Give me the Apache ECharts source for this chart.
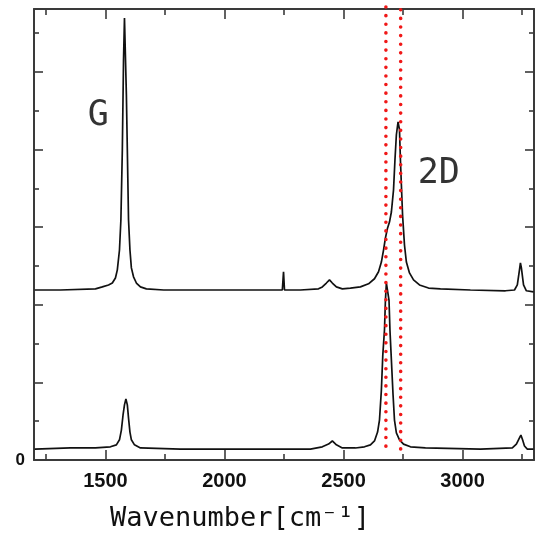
<!DOCTYPE html>
<html>
<head>
<meta charset="utf-8">
<script src="https://cdn.jsdelivr.net/npm/echarts@6/dist/echarts.min.js"></script>
<style>html,body{margin:0;padding:0;background:#fff;}#c{width:541px;height:539px;}</style>
</head>
<body>
<div id="c"></div>
<script>
const xMajorTicks = [1500, 2000, 2500, 3000];
const xMinorTicks = [1250, 1750, 2250, 2750, 3250];

const graphiteWn = [1203,1311,1458,1487,1513,1529,1542,1550,1559,1565,1571,1576,1580,1584,1588,1592,1597,1603,1609,1618,1630,1647,1672,1745,1752,1760,1899,2067,2243,2248,2252,2319,2395,2411,2428,2441,2453,2470,2495,2529,2571,2605,2630,2647,2659,2668,2676,2685,2693,2701,2710,2716,2722,2729,2735,2739,2743,2748,2756,2764,2777,2794,2819,2857,2907,3033,3180,3218,3230,3239,3243,3247,3256,3268,3298];
const graphiteI = [4.38,4.38,4.41,4.46,4.51,4.56,4.69,4.90,5.41,6.19,7.99,10.31,11.39,11.37,9.41,7.99,6.19,5.41,4.95,4.72,4.56,4.46,4.41,4.38,4.43,4.38,4.38,4.38,4.38,4.85,4.38,4.38,4.41,4.46,4.56,4.64,4.56,4.46,4.41,4.43,4.46,4.54,4.67,4.85,5.10,5.41,5.72,5.98,6.13,6.39,6.96,7.73,8.38,8.71,8.51,7.73,7.09,6.31,5.54,5.10,4.82,4.64,4.51,4.43,4.41,4.38,4.36,4.38,4.51,4.90,5.08,4.95,4.51,4.36,4.33];

const grapheneWn = [1203,1353,1360,1458,1521,1546,1559,1567,1574,1580,1586,1592,1597,1603,1609,1622,1647,1815,2113,2361,2411,2437,2453,2470,2495,2550,2588,2613,2630,2643,2651,2659,2665,2672,2676,2680,2687,2691,2695,2701,2708,2714,2722,2735,2752,2781,2844,3075,3209,3226,3239,3245,3252,3260,3272,3298];
const grapheneI = [0.28,0.31,0.28,0.31,0.34,0.39,0.52,0.77,1.16,1.42,1.57,1.42,1.08,0.72,0.52,0.39,0.31,0.28,0.28,0.28,0.34,0.41,0.49,0.39,0.31,0.31,0.34,0.39,0.49,0.72,1.03,1.80,2.71,3.35,4.12,4.56,4.54,4.12,3.35,2.58,1.68,1.03,0.70,0.52,0.41,0.34,0.31,0.28,0.31,0.41,0.57,0.64,0.52,0.36,0.28,0.28];

const refLineWn = [2678, 2740];
const refLineTop = [11.67, 11.60];
const refLineBottom = 0.2;

const peakLabels = ['G', '2D'];
const peakLabelWn = [1470, 2900];
const peakLabelI = [8.87, 7.38];

const X_MIN = 1200, X_MAX = 3300, Y_MIN = 0, Y_MAX = 11.62;
const frameColor = '#3a3a3a';

function zip(a, b) { return a.map((v, i) => [v, b[i]]); }

const chart = echarts.init(document.getElementById('c'), null, { renderer: 'canvas' });

function xAx(pos, ticks, len, showLine, showLabel) {
  return {
    type: 'value', position: pos, min: X_MIN, max: X_MAX, gridIndex: 0,
    axisLine: { show: showLine, onZero: false, lineStyle: { color: frameColor, width: 2 } },
    axisTick: { show: true, inside: true, length: len, customValues: ticks, lineStyle: { color: frameColor, width: 1.6 } },
    axisLabel: showLabel ? { show: true, customValues: ticks, formatter: v => String(v), margin: 11, color: '#111', fontFamily: 'Liberation Sans', fontWeight: 'bold', fontSize: 20 } : { show: false },
    splitLine: { show: false }
  };
}
function yAx(pos, showLabel) {
  return {
    type: 'value', position: pos, min: Y_MIN, max: Y_MAX, interval: 2,
    axisLine: { show: true, onZero: false, lineStyle: { color: frameColor, width: 2 } },
    axisTick: { show: true, inside: true, length: 9, lineStyle: { color: frameColor, width: 1.6 } },
    minorTick: { show: true, splitNumber: 2, length: 5, lineStyle: { color: frameColor, width: 1.6 } },
    axisLabel: showLabel ? { show: true, margin: 9, color: '#111', fontFamily: 'Liberation Sans', fontWeight: 'bold', fontSize: 17, formatter: v => (v === 0 ? '0' : '') } : { show: false },
    splitLine: { show: false }, minorSplitLine: { show: false }
  };
}

const refSeries = refLineWn.map((w, i) => ({
  type: 'line', data: [[w, refLineTop[i]], [w, refLineBottom]], showSymbol: false, clip: false, z: 10,
  lineStyle: { color: '#f01818', width: 3.6, type: [0.01, 8.6], cap: 'round' }, silent: true
}));

chart.setOption({
  animation: false,
  backgroundColor: '#fff',
  grid: { left: 34, right: 7, top: 9, bottom: 79, containLabel: false },
  xAxis: [
    xAx('bottom', xMajorTicks, 10, true, true),
    xAx('bottom', xMinorTicks, 6, false, false),
    xAx('top', xMajorTicks, 10, true, false),
    xAx('top', xMinorTicks, 6, false, false)
  ],
  yAxis: [yAx('left', true), yAx('right', false)],
  series: [
    { type: 'line', data: zip(graphiteWn, graphiteI), showSymbol: false, lineStyle: { color: '#111', width: 1.7 } },
    { type: 'line', data: zip(grapheneWn, grapheneI), showSymbol: false, lineStyle: { color: '#111', width: 1.7 } },
    ...refSeries,
    { type: 'scatter', data: zip(peakLabelWn, peakLabelI), symbolSize: 0, z: 11, silent: true,
      label: { show: true, position: 'inside', formatter: p => peakLabels[p.dataIndex], color: '#000', fontFamily: 'DejaVu Sans Mono', fontSize: 35 } }
  ],
  graphic: [
    { type: 'text', left: 110, top: 505, style: { text: 'Wavenumber[cm\u207B\u00B9]', fill: '#111', font: '27px "DejaVu Sans Mono"' } }
  ]
});
</script>
</body>
</html>
